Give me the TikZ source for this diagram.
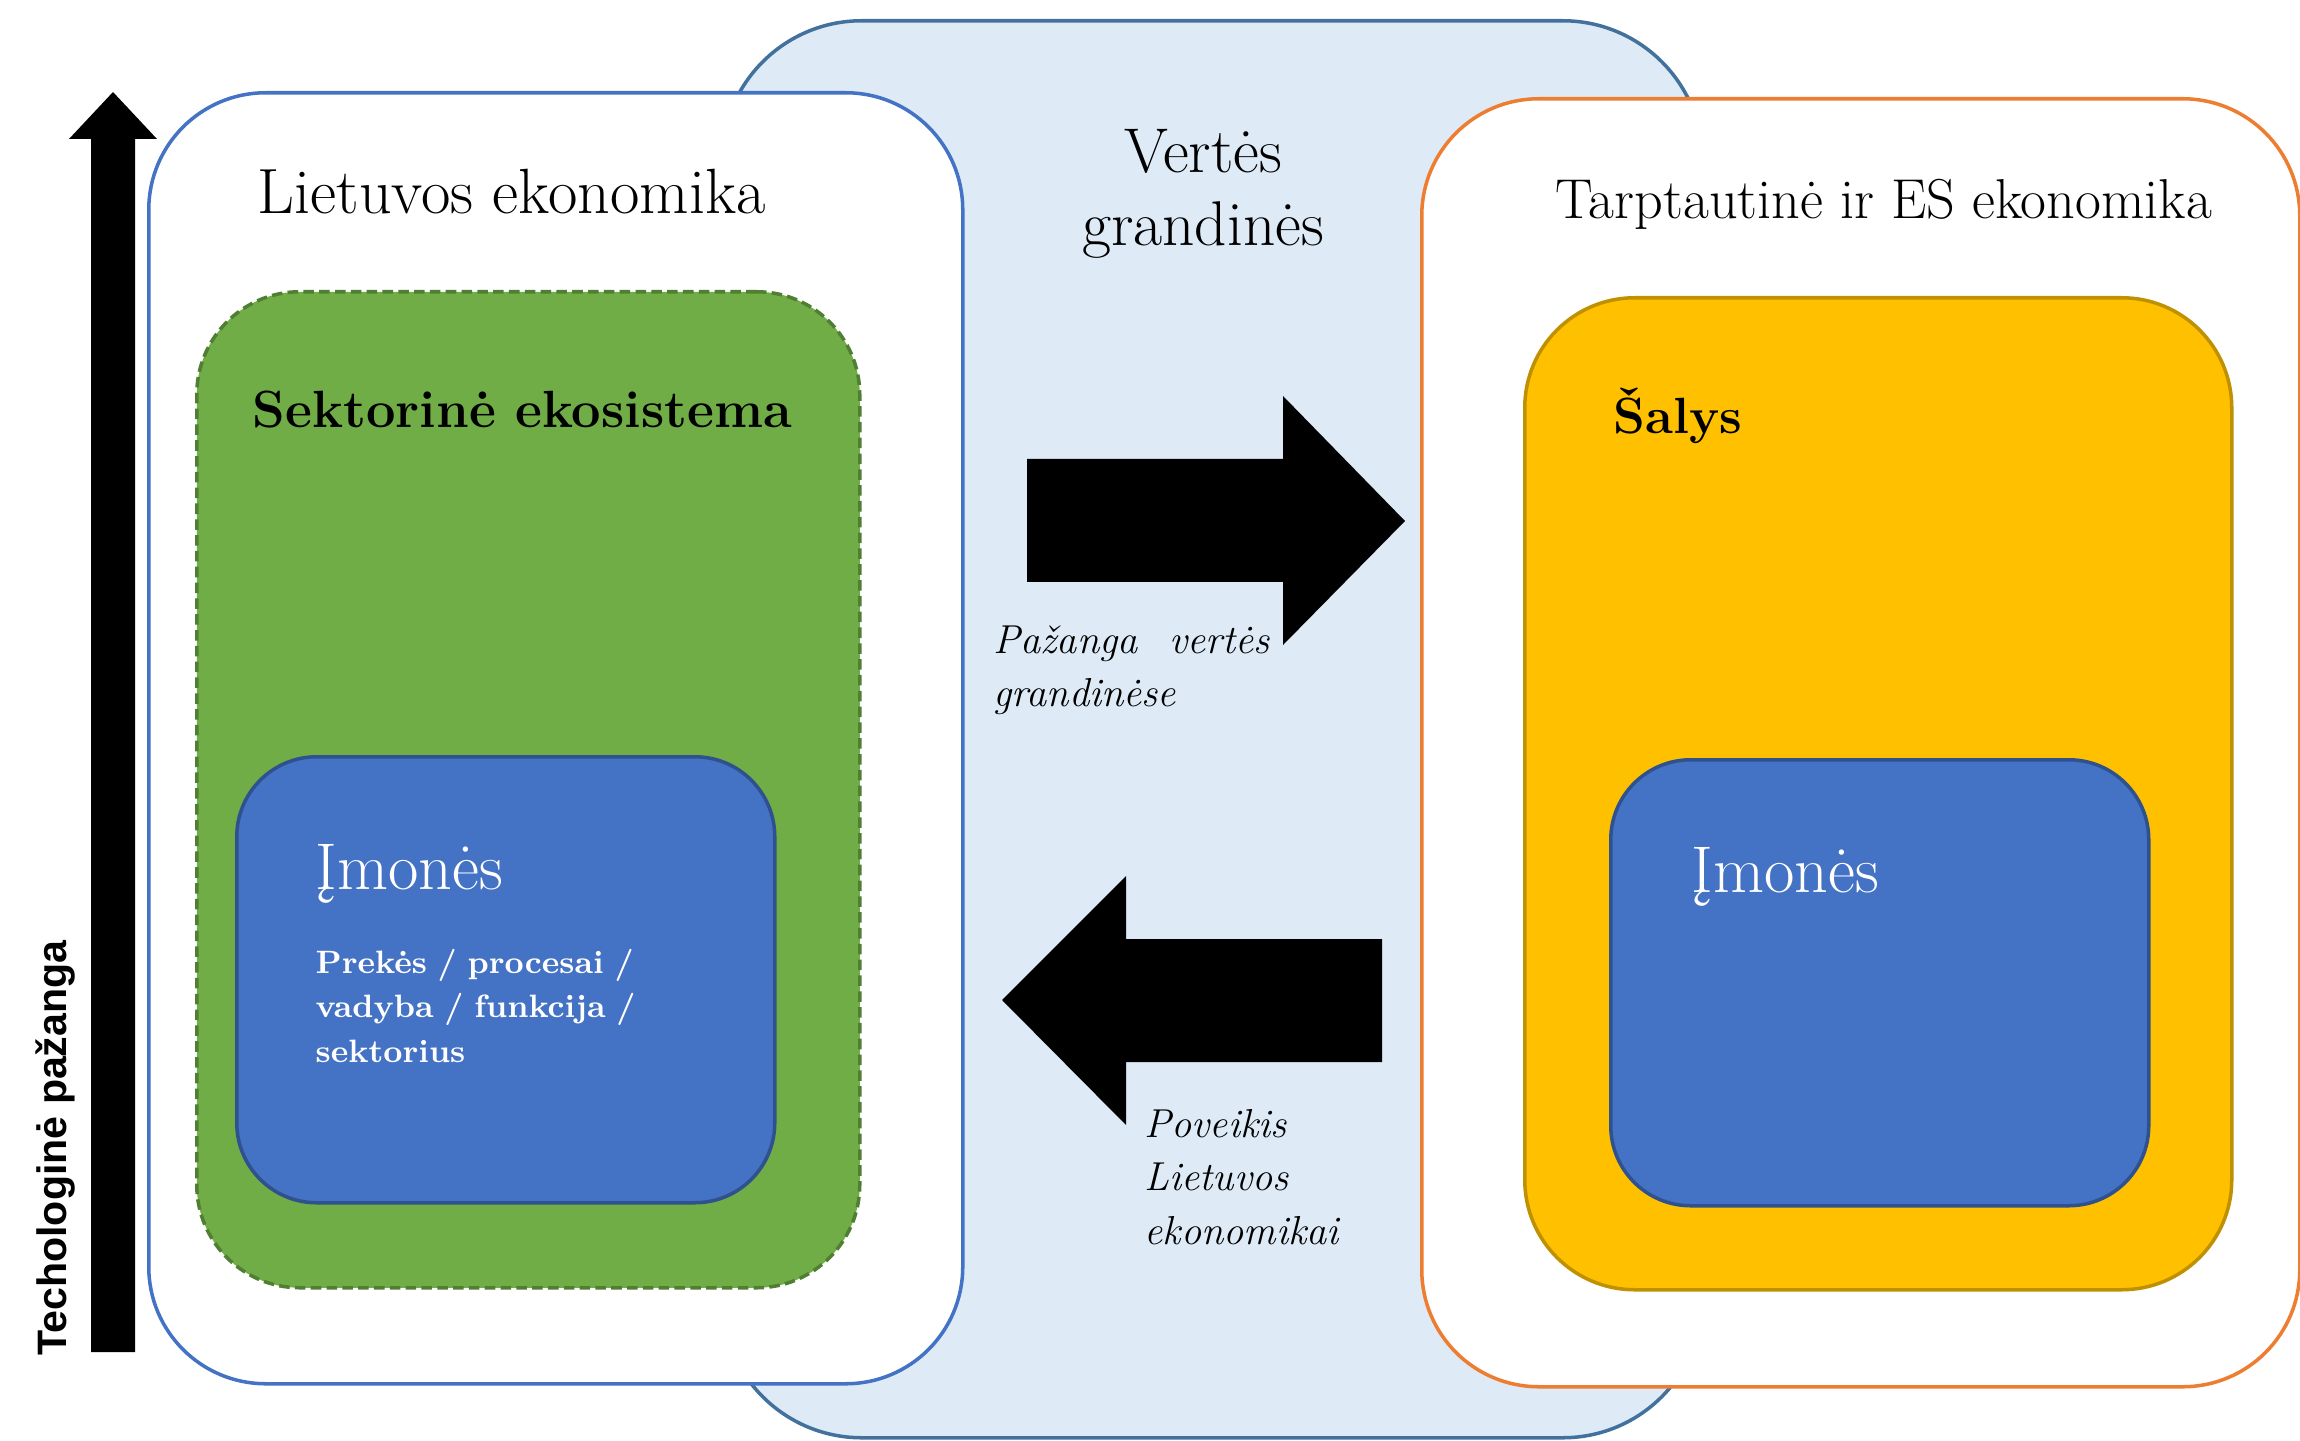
\documentclass[tikz,border=0pt]{standalone}
\usepackage{fontspec}
\newfontfamily\sidefont{Liberation Sans}
\definecolor{chainfill}{HTML}{DEEBF7}
\definecolor{chainline}{HTML}{41719C}
\definecolor{ltline}{HTML}{4472C4}
\definecolor{ekofill}{HTML}{70AD47}
\definecolor{ekoline}{HTML}{507E32}
\definecolor{firmfill}{HTML}{4472C4}
\definecolor{firmline}{HTML}{2F528F}
\definecolor{esline}{HTML}{ED7D31}
\definecolor{salysfill}{HTML}{FFC000}
\definecolor{salysline}{HTML}{BF9000}

\begin{document}
\begin{tikzpicture}
		\tikzstyle{Box} = [rectangle, anchor=north west, inner sep=0pt, line width=1pt]
		\tikzstyle{BigBox} = [Box, fill=white, rounded corners=1.17cm]
		\tikzstyle{FirmBox} = [Box, draw=firmline, fill=firmfill, rounded corners=0.8cm, minimum width=5.38cm, minimum height=4.46cm]
		\tikzstyle{Label} = [anchor=base west, inner sep=0pt]
		\tikzstyle{Note} = [Label, align=left, font=\fontsize{11.5}{15.3}\itshape\selectfont]
		
		\useasboundingbox (0,0) rectangle (23,-14.41);
		
		% value chains in the middle
		\node (chain) [Box, draw=chainline, fill=chainfill, rounded corners=1.4cm, minimum width=9.81cm, minimum height=14.17cm] at (7.20,-0.19) {};
		
		% Lithuania
		\node (lt) [BigBox, draw=ltline, minimum width=8.14cm, minimum height=12.91cm] at (1.47,-0.91) {};
		\node (eko) [Box, draw=ekoline, dash pattern=on 3pt off 1.5pt, fill=ekofill, rounded corners=1.03cm, minimum width=6.63cm, minimum height=9.96cm] at (1.95,-2.90) {};
		\node (ltfirm) [FirmBox] at (2.35,-7.55) {};
		
		% international and EU
		\node (es) [BigBox, draw=esline, minimum width=8.78cm, minimum height=12.88cm] at (14.20,-0.97) {};
		\node (salys) [Box, draw=salysline, fill=salysfill, rounded corners=1.1cm, minimum width=7.07cm, minimum height=9.92cm] at (15.23,-2.96) {};
		\node (esfirm) [FirmBox] at (16.09,-7.58) {};
		
		% block arrows
		\fill (10.27,-4.59) -- (12.83,-4.59) -- (12.83,-3.96) -- (14.05,-5.21) -- (12.83,-6.45) -- (12.83,-5.82) -- (10.27,-5.82) -- cycle;
		\fill (13.82,-9.39) -- (11.26,-9.39) -- (11.26,-8.76) -- (10.02,-10.00) -- (11.26,-11.25) -- (11.26,-10.62) -- (13.82,-10.62) -- cycle;
		\fill (0.91,-13.52) -- (0.91,-1.39) -- (0.69,-1.39) -- (1.13,-0.92) -- (1.57,-1.39) -- (1.35,-1.39) -- (1.35,-13.52) -- cycle;
		
		% texts
		\node (ltname) [Label, font=\fontsize{18.2}{21}\selectfont] at (2.57,-2.14) {Lietuvos ekonomika};
		\node (ekoname) [Label, font=\fontsize{14.9}{17}\bfseries\selectfont] at (2.52,-4.28) {Sektorinė ekosistema};
		\node (ltfirmname) [Label, text=white, font=\fontsize{18.8}{22}\selectfont] at (3.15,-8.89) {Įmonės};
		\node (ltfirmtext) [Label, text=white, text width=4.3cm, align=left, font=\fontsize{9.2}{12.8}\bfseries\selectfont] at (3.15,-9.73) {Prekės / procesai /\\vadyba / funkcija /\\sektorius};
		\node (chainname) [anchor=base, inner sep=0pt, text width=3cm, align=center, font=\fontsize{18}{20.5}\selectfont] at (12.03,-1.73) {Vertės\\grandinės};
		\node (esname) [Label, font=\fontsize{16}{19}\selectfont] at (15.55,-2.19) {Tarptautinė ir ES ekonomika};
		\node (salysname) [Label, font=\fontsize{14.5}{17}\bfseries\selectfont] at (16.13,-4.34) {Šalys};
		\node (esfirmname) [Label, text=white, font=\fontsize{18.8}{22}\selectfont] at (16.91,-8.92) {Įmonės};
		\node (up) [Note, text width=2.76cm] at (9.93,-6.53) {Pažanga\hfill vertės\\grandinėse};
		\node (down) [Note, text width=2.3cm] at (11.44,-11.37) {Poveikis\\Lietuvos\\ekonomikai};
		\node (tech) [rotate=90, inner sep=0pt, font=\sidefont\fontsize{11.7}{14}\bfseries\selectfont] at (0.56,-11.48) {Techologinė pažanga};
		
		\end{tikzpicture}
\end{document}
